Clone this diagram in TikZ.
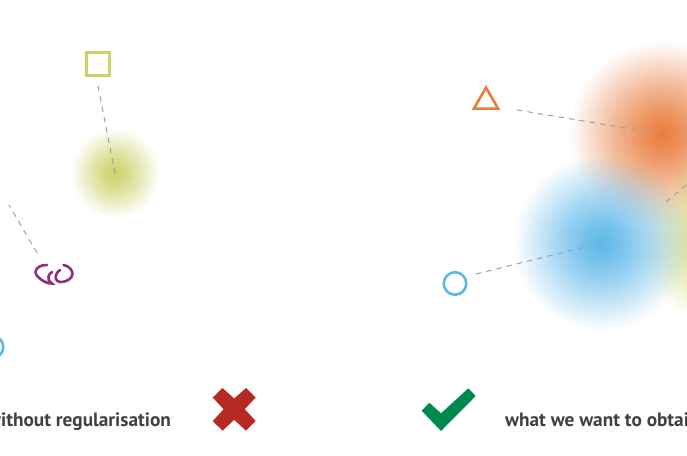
\documentclass[tikz,border=0pt]{standalone}
\usepackage{fontspec}
\setmainfont{PT Sans}
\usetikzlibrary{fadings, shapes.geometric}
\definecolor{markolive}{HTML}{CDD168}
\definecolor{markorange}{HTML}{E87D3E}
\definecolor{markblue}{HTML}{5DB7E8}
\definecolor{markpurple}{HTML}{8E2E7E}
\definecolor{dashgrey}{HTML}{A0A0A0}
\definecolor{labelgrey}{HTML}{414042}
\definecolor{crossred}{HTML}{B72A23}
\definecolor{tickgreen}{HTML}{00894D}
\pgfdeclareradialshading{blobramp}{\pgfpointorigin}{color(0bp)=(pgftransparent!0); color(6bp)=(pgftransparent!18); color(12.5bp)=(pgftransparent!44); color(20bp)=(pgftransparent!78); color(25bp)=(pgftransparent!100); color(50bp)=(pgftransparent!100)}
\pgfdeclarefading{blobfade}{\pgfuseshading{blobramp}}
\tikzstyle{blob} = [circle, inner sep=0pt, path fading=blobfade]
\tikzstyle{marker} = [inner sep=0pt, line width=2.6pt]
\tikzstyle{link} = [dashgrey, line width=1pt, dash pattern=on 5.5pt off 5pt]
\tikzstyle{caption} = [font=\bfseries\fontsize{19.3}{24}\selectfont, text=labelgrey, inner sep=0pt, anchor=base west]

\begin{document}
\begin{tikzpicture}[x=1pt,y=-1pt]
    \useasboundingbox (0,0) rectangle (687,455);
    \clip (0,0) rectangle (687,455);

    % blobs
    \node [blob, fill=markolive, minimum size=90pt] at (115,173) (oliveleft) {};
    \node [blob, fill=markorange, minimum size=186pt] at (662,134) (orangeright) {};
    \node [blob, fill=markolive, minimum size=172pt] at (725,240) (oliveright) {};
    \node [blob, fill=markblue, minimum size=176pt] at (601,243) (blueright) {};

    % markers
    \node [marker, draw=markolive, rectangle, minimum size=22.5pt] at (98,64) (square) {};
    \node [marker, draw=markorange, regular polygon, regular polygon sides=3, minimum size=28pt] at (486,101.6) (triangle) {};
    \node [marker, draw=markblue, circle, minimum size=22.5pt] at (455,283.5) (ringright) {};
    \node [marker, draw=markblue, circle, minimum size=22.5pt] at (-8,347) (ringleft) {};
    \draw [markpurple, line width=2.6pt, line cap=round] (47,265) .. controls (41,264.5) and (35.5,268) .. (35.5,272) .. controls (35.5,277) and (46,284) .. (52,283.5) .. controls (49,281) and (47.5,279) .. (48.5,276.5) .. controls (49,274.5) and (50.5,273) .. (52,272);
    \draw [markpurple, line width=2.6pt, line cap=round] (63.5,265) .. controls (69,266) and (72.5,270) .. (72.5,274) .. controls (72.5,279) and (65,282.5) .. (60,282) .. controls (55.5,281.5) and (55,277) .. (56.5,274) .. controls (57,272.5) and (58.5,271) .. (60,270);

    \coordinate (squareend) at (98,86);
    \coordinate (triangleend) at (517,110);
    \coordinate (ringend) at (476,274);
    \coordinate (linkend) at (37,253);
    \coordinate (linkout) at (9,205);
    \coordinate (mixend) at (666,202);
    \coordinate (mixout) at (690,182);

    \draw [link] (squareend) -- (oliveleft.center);
    \draw [link] (triangleend) -- (orangeright.center);
    \draw [link] (ringend) -- (blueright.center);
    \draw [link] (linkend) -- (linkout);
    \draw [link] (mixend) -- (mixout);

    % cross and tick
    \fill [crossred] (234.2,398.5) -- (246,388) -- (255.7,397.5) -- (244.8,409.2) -- (255.7,421) -- (246,430.7) -- (234.2,419.8) -- (222.5,430.7) -- (212.7,421) -- (223.6,409.2) -- (212.7,397.5) -- (222.5,388) -- cycle;
    \fill [tickgreen] (421.7,410.7) -- (429.3,402.7) -- (441,413.3) -- (468.3,388.3) -- (475.7,396) -- (441,431) -- cycle;

    % captions
    \node [caption] at (-13,426) (without) {without regularisation};
    \node [caption] at (505,426) (want) {what we want to obtain};
\end{tikzpicture}
\end{document}
